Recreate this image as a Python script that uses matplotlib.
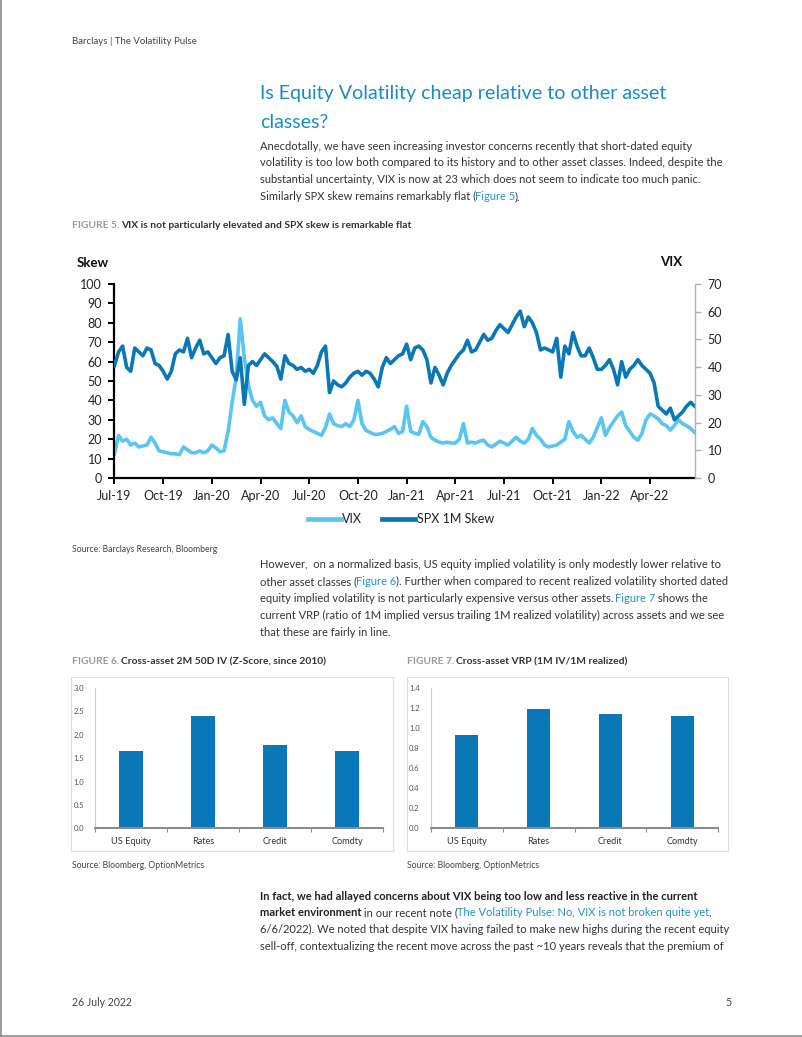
import matplotlib
matplotlib.use("Agg")
import matplotlib.pyplot as plt
from matplotlib.lines import Line2D
from matplotlib.patches import Rectangle
import numpy as np

W, H = 802, 1037
FONT = ["Lato", "DejaVu Sans"]
plt.rcParams["font.family"] = FONT

DARK = "#333333"
GREY = "#9a9a9a"
LINK = "#2a8fc4"
TITLE_C = "#1b8bc0"
VIX_C = "#5bc5f2"
SKEW_C = "#0a78b4"
BAR_C = "#0a77b6"

# ---- Figure 5 data: weekly points, VIX (left axis) and SPX 1M skew (right axis)
vix = [
    12.5, 22, 19, 20, 17, 18, 16, 16.5,
    17, 21, 18, 14, 13.5, 13, 12.5, 12.5,
    12, 16, 14.5, 13, 13, 14, 13, 14,
    17, 15.5, 13.5, 14, 24, 39, 52, 82,
    62, 48, 40, 37, 39, 32, 30, 31,
    28, 25.5, 40, 34, 32, 28.5, 32, 26.5,
    25, 24, 23, 22, 26, 33, 28, 27,
    26.5, 28, 26.5, 30, 40, 28, 24.5, 23.5,
    22.5, 22.5, 23, 24, 25, 26.5, 23, 24,
    37, 24, 23, 22.5, 29, 26.5, 21, 19.5,
    18.5, 18, 18.5, 18, 18, 20, 28, 18,
    18.5, 18, 19, 19.5, 17, 16, 17.5, 19,
    18, 17, 19, 21, 19, 18, 20, 25.5,
    22, 20, 17, 16, 16.5, 17, 18.5, 20,
    29, 24, 21, 22, 20, 18, 21, 26,
    31, 22, 26, 29, 32, 34, 27, 24,
    21, 19.5, 23, 30, 33, 32, 30.5, 28,
    27, 24.7, 27, 30, 28, 27, 25.5, 23.5,
]
skew = [
    40.6, 45.5, 47.6, 39.9, 38.5, 46.9, 45.5, 44.1,
    46.9, 46.2, 41.3, 40.6, 38.5, 35.7, 38.5, 44.8,
    46.2, 45.5, 50.4, 43.4, 46.9, 49.7, 44.8, 45.5,
    43.4, 41.3, 43.4, 44.1, 51.8, 38.5, 35.4, 43.4,
    26.6, 40.6, 42.0, 40.6, 42.7, 44.8, 43.4, 42.0,
    40.3, 35.7, 44.1, 41.3, 40.6, 39.2, 39.9, 38.5,
    39.2, 37.8, 40.6, 45.5, 47.6, 30.8, 35.0, 33.6,
    32.9, 34.3, 36.4, 37.8, 38.5, 37.1, 38.5, 37.8,
    35.7, 32.9, 39.9, 43.4, 41.3, 42.7, 44.1, 44.8,
    48.3, 42.7, 46.9, 47.6, 46.2, 42.7, 34.3, 39.9,
    37.1, 33.6, 37.8, 40.6, 42.7, 44.8, 46.2, 49.7,
    45.5, 46.2, 49.0, 51.8, 49.7, 50.4, 53.2, 55.3,
    53.9, 52.5, 55.3, 58.1, 60.2, 54.6, 58.1, 56.0,
    52.5, 46.2, 46.9, 46.2, 45.5, 50.4, 36.4, 47.6,
    44.8, 52.5, 47.6, 44.1, 44.1, 46.9, 43.4, 39.2,
    39.2, 40.6, 42.7, 39.2, 33.6, 42.0, 36.4, 39.2,
    40.6, 42.7, 40.6, 39.2, 37.8, 34.3, 25.9, 24.5,
    23.1, 25.2, 21.0, 22.4, 23.8, 25.9, 27.3, 25.9,
]
month_labels = ["Jul-19", "Oct-19", "Jan-20", "Apr-20", "Jul-20", "Oct-20",
                "Jan-21", "Apr-21", "Jul-21", "Oct-21", "Jan-22", "Apr-22"]

# ---- Figures 6 and 7
categories = ["US Equity", "Rates", "Credit", "Comdty"]
iv_zscore = [1.66, 2.41, 1.78, 1.65]
vrp = [0.93, 1.19, 1.14, 1.12]

fig = plt.figure(figsize=(W / 100, H / 100), dpi=100)
renderer = fig.canvas.get_renderer()


def frac(x0, y0, x1, y1):
    return [x0 / W, 1 - y1 / H, (x1 - x0) / W, (y1 - y0) / H]


def put(x, y, s, size, color=DARK, weight="normal", ha="left"):
    return fig.text(x / W, 1 - y / H, s, fontsize=size, color=color,
                    fontweight=weight, ha=ha, va="center")


def runs(x, y, parts, size):
    # parts: list of (text, color, weight), drawn one after another
    for s, color, weight in parts:
        t = put(x, y, s, size, color, weight)
        x += t.get_window_extent(renderer).width - 0.8


BODY = 8.05
N = "normal"
B = "bold"

# header / title
put(72, 42, "Barclays | The Volatility Pulse", 6.9, "#444444")
put(260, 94, "Is Equity Volatility cheap relative to other asset", 14.1, TITLE_C)
put(260, 122, "classes?", 14.1, TITLE_C)

p1 = [
    [("Anecdotally, we have seen increasing investor concerns recently that short-dated equity", DARK, N)],
    [("volatility is too low both compared to its history and to other asset classes. Indeed, despite the", DARK, N)],
    [("substantial uncertainty, VIX is now at 23 which does not seem to indicate too much panic.", DARK, N)],
    [("Similarly SPX skew remains remarkably flat (", DARK, N), ("Figure 5", LINK, N), (").", DARK, N)],
]
for k, parts in enumerate(p1):
    runs(260, 146 + 16.8 * k, parts, BODY)

runs(72, 226, [("FIGURE 5. ", GREY, B),
               ("VIX is not particularly elevated and SPX skew is remarkable flat", DARK, B)], 7.4)

# ---- Figure 5 chart
x = np.arange(len(vix)) * 0.25  # months since Jul-19
ax = fig.add_axes(frac(114.5, 284, 695, 478))
ax.plot(x, vix, color=VIX_C, lw=2.6, solid_joinstyle="round")
ax2 = ax.twinx()
ax2.plot(x, skew, color=SKEW_C, lw=2.6, solid_joinstyle="round")
ax.set_xlim(0, 35.77)
ax.set_ylim(0, 100)
ax2.set_ylim(0, 70)
ax.set_yticks(range(0, 101, 10))
ax2.set_yticks(range(0, 71, 10))
ax.set_xticks(range(0, 34, 3))
ax.set_xticklabels(month_labels)
for s in ["top", "right"]:
    ax.spines[s].set_visible(False)
for s in ["top", "left", "bottom"]:
    ax2.spines[s].set_visible(False)
ax.spines["left"].set_linewidth(1.6)
ax.spines["bottom"].set_linewidth(1.6)
ax2.spines["right"].set_color("#b0b0b0")
ax2.spines["right"].set_linewidth(1.0)
ax.tick_params(axis="both", direction="out", length=4, width=1.4,
               labelsize=9, labelcolor="#222222", pad=5)
ax2.tick_params(axis="y", direction="out", length=4, width=1.0, color="#b0b0b0",
                labelsize=9, labelcolor="#222222", pad=5)

put(77, 263, "Skew", 9.5, "#111111", B)
put(660, 262, "VIX", 9.5, "#111111", B)

handles = [Line2D([], [], color=VIX_C, lw=3.4), Line2D([], [], color=SKEW_C, lw=3.4)]
fig.legend(handles, ["VIX", "SPX 1M Skew"], loc="center",
           bbox_to_anchor=(401 / W, 1 - 519 / H), ncol=2, frameon=False,
           fontsize=9, handlelength=2.6, handletextpad=0.15, columnspacing=1.6,
           labelcolor="#222222")

put(72, 549, "Source: Barclays Research, Bloomberg", 6.2, "#444444")

p2 = [
    [("However,  on a normalized basis, US equity implied volatility is only modestly lower relative to", DARK, N)],
    [("other asset classes (", DARK, N), ("Figure 6", LINK, N),
     ("). Further when compared to recent realized volatility shorted dated", DARK, N)],
    [("equity implied volatility is not particularly expensive versus other assets. ", DARK, N),
     ("Figure 7", LINK, N), (" shows the", DARK, N)],
    [("current VRP (ratio of 1M implied versus trailing 1M realized volatility) across assets and we see", DARK, N)],
    [("that these are fairly in line.", DARK, N)],
]
for k, parts in enumerate(p2):
    runs(260, 565 + 16.9 * k, parts, BODY)

runs(72, 662, [("FIGURE 6. ", GREY, B), ("Cross-asset 2M 50D IV (Z-Score, since 2010)", DARK, B)], 7.4)
runs(407, 662, [("FIGURE 7. ", GREY, B), ("Cross-asset VRP (1M IV/1M realized)", DARK, B)], 7.4)


def bar_panel(box, area, values, ymax, step):
    fig.add_artist(Rectangle((box[0] / W, 1 - box[3] / H), (box[2] - box[0]) / W,
                             (box[3] - box[1]) / H, transform=fig.transFigure,
                             fill=False, edgecolor="#dedede", lw=0.8))
    a = fig.add_axes(frac(*area))
    pos = np.arange(len(categories))
    a.bar(pos, values, width=0.32, color=BAR_C)
    a.set_xlim(-0.5, len(categories) - 0.5)
    a.set_ylim(0, ymax)
    ticks = np.arange(0, ymax + step / 2, step)
    a.set_yticks(ticks)
    a.set_yticklabels([f"{t:.1f}" for t in ticks])
    a.set_xticks(pos)
    a.set_xticklabels(categories)
    a.set_xticks(np.arange(-0.5, len(categories)), minor=True)
    for s in ["top", "right"]:
        a.spines[s].set_visible(False)
    a.spines["left"].set_color("#d0d0d0")
    a.spines["left"].set_linewidth(0.8)
    a.spines["bottom"].set_color("#8c8c8c")
    a.spines["bottom"].set_linewidth(1.5)
    a.tick_params(axis="y", length=0, labelsize=5.5, labelcolor="#555555", pad=8)
    a.tick_params(axis="x", which="major", length=0, labelsize=6.6, labelcolor="#333333", pad=6)
    a.tick_params(axis="x", which="minor", length=3, width=0.8, color="#8c8c8c")
    return a


bar_panel((71, 677, 393, 851), (95, 688, 383, 828.3), iv_zscore, 3.0, 0.5)
bar_panel((407, 677, 728, 851), (430.7, 688.3, 718.3, 828.3), vrp, 1.4, 0.2)

put(72, 866, "Source: Bloomberg, OptionMetrics", 6.2, "#444444")
put(407, 866, "Source: Bloomberg, OptionMetrics", 6.2, "#444444")

p3 = [
    [("In fact, we had allayed concerns about VIX being too low and less reactive in the current", "#222222", B)],
    [("market environment", "#222222", B), (" in our recent note (", DARK, N),
     ("The Volatility Pulse: No, VIX is not broken quite yet", LINK, N), (",", DARK, N)],
    [("6/6/2022). We noted that despite VIX having failed to make new highs during the recent equity", DARK, N)],
    [("sell-off, contextualizing the recent move across the past ~10 years reveals that the premium of", DARK, N)],
]
for k, parts in enumerate(p3):
    runs(260, 896 + 16.9 * k, parts, BODY)

put(72, 1003, "26 July 2022", 7.6, "#444444")
put(725, 1003, "5", 7.6, "#444444")

# page edge
fig.add_artist(Line2D([0.6 / W, 0.6 / W], [0, 1], transform=fig.transFigure, color="#8a8a8a", lw=1.2))
fig.add_artist(Line2D([0, 1], [1.5 / H, 1.5 / H], transform=fig.transFigure, color="#8a8a8a", lw=1.2))

fig.savefig("out.png", dpi=100)
